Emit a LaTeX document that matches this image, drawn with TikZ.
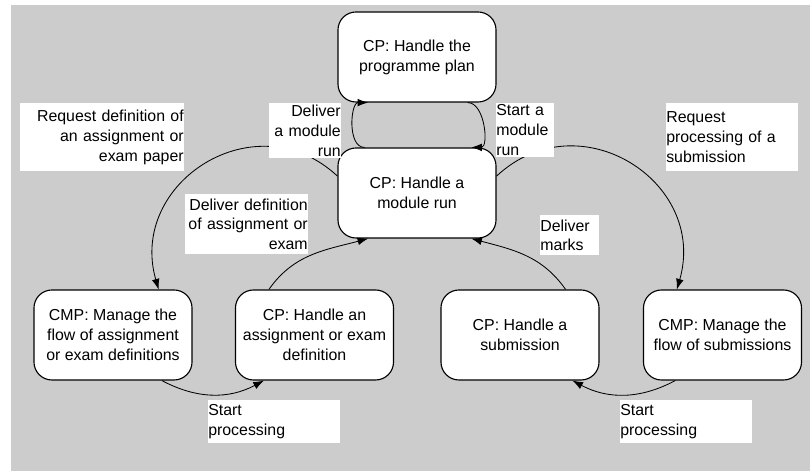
\documentclass[tikz,border=0pt]{standalone}
\usepackage{fontspec}
\setmainfont{Liberation Sans}
\usetikzlibrary{arrows.meta}

\begin{document}
\begin{tikzpicture}[x=0.025cm,y=0.025cm,>={Latex[length=7.5pt,width=5.5pt]}]
  % Colors
  \definecolor{bggray}{RGB}{204,204,204}

  % Styles
  \tikzstyle{process}=[draw,line width=0.8pt,fill=white,rounded corners=0.45cm,
    minimum width=3.95cm,minimum height=2.25cm,align=center,
    font=\fontsize{11.3}{14.2}\selectfont]
  \tikzstyle{flow}=[line width=0.6pt]
  \tikzstyle{note}=[fill=white,inner xsep=0pt,inner ysep=3pt,
    font=\fontsize{11.3}{14.2}\selectfont]

  % The graphic
  \useasboundingbox (0,0) rectangle (810,471);
  \fill[bggray] (11,0) rectangle (810,466);

  % Processes
  \node[process] (plan) at (417,414) {CP: Handle the\\programme plan};
  \node[process] (modrun) at (417,278) {CP: Handle a\\module run};
  \node[process] (flowdef) at (113,136) {CMP: Manage the\\flow of assignment\\or exam definitions};
  \node[process] (hdef) at (314.5,136) {CP: Handle an\\assignment or exam\\definition};
  \node[process] (hsub) at (520,136) {CP: Handle a\\submission};
  \node[process] (flowsub) at (722.5,136) {CMP: Manage the\\flow of submissions};

  % Connectors
  \draw[flow,->] (modrun.139) to[out=180,in=180] (plan.223);
  \draw[flow,->] (plan.318) to[out=0,in=0] (modrun.40);
  \draw[flow,->] (modrun.168) to[out=137,in=106,looseness=1.35] (flowdef.45);
  \draw[flow,->] (modrun.12) to[out=43,in=74,looseness=1.35] (flowsub.135);
  \draw[flow,->] (hdef.135) to[out=55,in=195] (modrun.223);
  \draw[flow,->] (hsub.45) to[out=125,in=-15] (modrun.320);
  \draw[flow,->] (flowdef.317) to[out=-28,in=208] (hdef.222);
  \draw[flow,->] (flowsub.224) to[out=208,in=-28] (hsub.319);

  % Labels
  \node[note,anchor=north east,text width=4.1cm,align=right,minimum height=1.7cm]
    (reqdef) at (184,368) {Request definition of\\an assignment or\\exam paper};
  \node[note,anchor=north east,text width=1.8cm,align=right,inner ysep=1pt]
    (delmod) at (341,368) {Deliver\\a module\\run};
  \node[note,anchor=north west,text width=1.45cm,align=left,inner ysep=1pt]
    (startmod) at (496,368) {Start a\\module\\run};
  \node[note,anchor=north west,text width=3.3cm,align=left,minimum height=1.7cm]
    (reqproc) at (666,368) {Request\\processing of a\\submission};
  \node[note,anchor=north east,text width=3.075cm,align=right]
    (deldef) at (308,277) {Deliver definition\\of assignment or\\exam};
  \node[note,anchor=north west,text width=1.475cm,align=left]
    (delmarks) at (540,256) {Deliver\\marks};
  \node[note,anchor=north west,text width=3.3cm,align=left]
    (startdef) at (208,71) {Start\\processing};
  \node[note,anchor=north west,text width=3.3cm,align=left]
    (startsub) at (620,71) {Start\\processing};
\end{tikzpicture}
\end{document}
